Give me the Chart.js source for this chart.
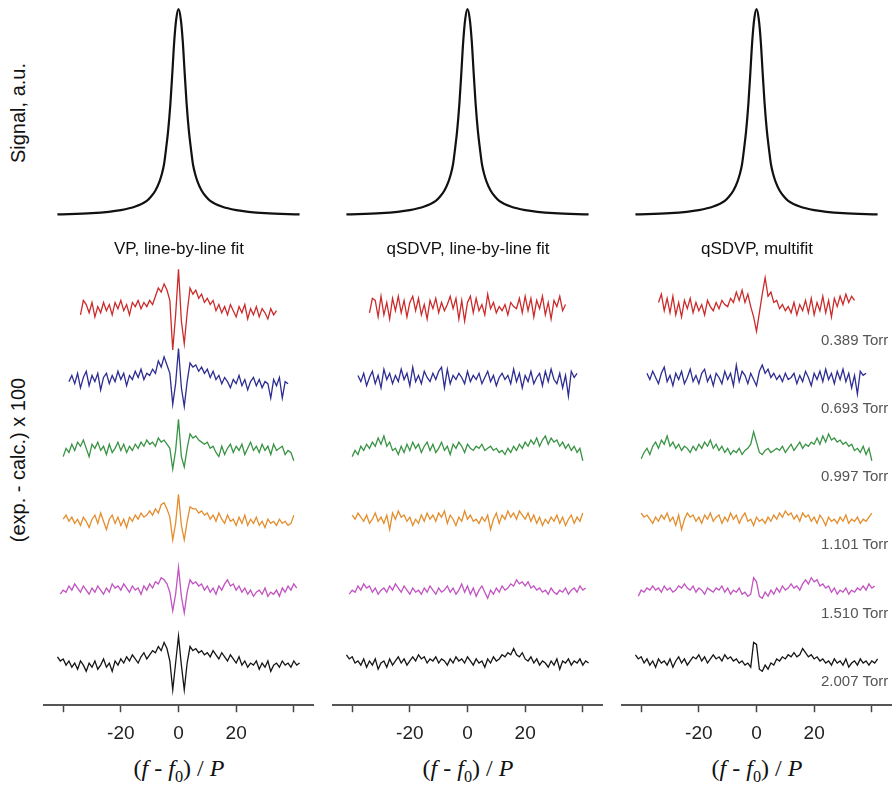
<!DOCTYPE html>
<html>
<head>
<meta charset="utf-8">
<script src="https://cdn.jsdelivr.net/npm/chart.js@4.4.1/dist/chart.umd.min.js"></script>
<style>
  body { margin: 0; background: #fff; }
  #wrap { position: relative; width: 894px; height: 785px; overflow: hidden;
          font-family: "Liberation Sans", Arial, sans-serif; color: #111; }
  canvas { position: absolute; top: 0; }
  .lbl { position: absolute; white-space: nowrap; transform: translate(-50%, -50%); }
  .title { font-size: 17px; }
  .ylab { position: absolute; white-space: nowrap; font-size: 20px;
          transform: translate(-50%, -50%) rotate(-90deg); }
  .xt { font-family: "Liberation Serif", "Times New Roman", serif; font-size: 24px; }
  .xt sub { font-size: 0.68em; }
  .torr { position: absolute; font-size: 15px; color: #555; white-space: nowrap;
          transform: translateY(-50%); }
</style>
</head>
<body>
<div id="wrap">
  <canvas id="c0" width="271" height="755" style="left:43px"></canvas>
  <canvas id="c1" width="271" height="755" style="left:332px"></canvas>
  <canvas id="c2" width="271" height="755" style="left:621px"></canvas>

  <div class="ylab" style="left:18px; top:113px">Signal, a.u.</div>
  <div class="ylab" style="left:18px; top:460px">(exp. - calc.) x 100</div>

  <div class="lbl title" style="left:179px; top:249px">VP, line-by-line fit</div>
  <div class="lbl title" style="left:468px; top:249px">qSDVP, line-by-line fit</div>
  <div class="lbl title" style="left:757px; top:249px">qSDVP, multifit</div>

  <div class="lbl xt" style="left:179px; top:771px">(<i>f</i> - <i>f</i><sub>0</sub>) / <i>P</i></div>
  <div class="lbl xt" style="left:468px; top:771px">(<i>f</i> - <i>f</i><sub>0</sub>) / <i>P</i></div>
  <div class="lbl xt" style="left:757px; top:771px">(<i>f</i> - <i>f</i><sub>0</sub>) / <i>P</i></div>

  <div id="torr"></div>
</div>

<script>
// axis
const xTicks = [-40, -20, 0, 20, 40];
const tickLabels = ['', '-20', '0', '20', ''];

// pressures (one residual trace each), first x of each trace, step 1
const pressures = ['0.389 Torr', '0.693 Torr', '0.997 Torr', '1.101 Torr', '1.510 Torr', '2.007 Torr'];
const traceColors = ['#cc2b2b', '#2d2d92', '#3a9445', '#e38d2c', '#c154c1', '#161616'];
const traceStart = [-34, -38, -40, -40, -41, -42];

// measured line profile (top)
const peakX = [-42, -30, -20, -15, -11, -9.5, -8, -6.6, -5.8, -5, -4.3, -3.6, -2.8, -2.1, -1.5, -0.8, 0,
               0.8, 1.5, 2.1, 2.8, 3.6, 4.3, 5, 5.8, 6.6, 8, 9.5, 11, 15, 20, 30, 42];
const peakY = [0.006, 0.012, 0.027, 0.044, 0.072, 0.093, 0.122, 0.165, 0.2, 0.25, 0.325, 0.41, 0.545, 0.7, 0.84, 0.95, 1.0,
               0.95, 0.84, 0.7, 0.545, 0.41, 0.325, 0.25, 0.2, 0.165, 0.122, 0.093, 0.072, 0.044, 0.027, 0.012, 0.006];

// residuals, VP line-by-line
const vpRed = [-4,3,1,-3,2,-5,0,-3,2,-2, 1,-4,2,-1,3,-2,1,-4,2,0, 3,-1,2,0,3,1,5,9,7,11,
  8,3,-21,-4,18,-7,-18,-3,9,6, 8,4,6,2,4,1,3,-2,1,-3, 0,-4,1,-2,-5,0,-3,1,-6,-1, -4,0,-5,-1,-3,-6,-1,-4,-2];
const vpBlue = [-2,1,-3,2,-5,0,3,-4,1,-2, 2,-6,0,2,-3,1,-2,3,-1,2, -4,1,-1,3,0,4,-1,2,1,4,
  2,8,5,10,6,2,-13,-3,14,-5, -14,-2,7,5,6,3,5,2,4,0, 3,-1,1,-3,0,-2,-5,-1,-3,1,
  -4,-1,-6,-2,0,-4,-1,-5,-2,-3, -10,-1,-4,0,-10,-2,-3];
const vpGreen = [-4,0,-2,2,-1,3,1,4,0,-4, 2,0,3,-1,1,-3,2,-2,0,3, -1,2,-2,1,-1,2,0,3,1,4,
  2,3,1,5,3,4,2,0,-10,-1, 14,-4,-9,0,7,5,6,4,3,2, 3,0,1,-2,-4,1,-3,0,2,-2,
  1,-1,2,-3,0,3,-1,1,-2,2, -1,1,-3,2,-1,0,1,-3,-1,-2, -6];
const vpOrange = [0,2,-1,1,-2,0,-3,1,-1,-4, 0,2,-2,3,-1,-5,0,2,-2,1, -3,0,-4,1,-1,2,0,3,1,2,
  4,2,5,3,7,8,5,1,-10,-2, 12,-3,-10,-1,6,5,5,3,4,2, 3,0,2,-1,3,0,-2,2,-1,0,
  -3,1,-2,2,-3,0,-2,1,-3,-1, -4,0,-2,-1,-3,0,-2,-1,-3,-2, 2];
const vpMagenta = [-2,0,-1,2,0,3,1,-1,2,0, -2,1,-1,2,0,-2,1,-1,3,1, 2,0,3,1,-1,2,0,1,-2,2,
  0,3,1,4,3,6,5,3,-1,-10, -2,11,-3,-11,-1,5,3,4,2,3, 0,2,-1,1,-2,2,0,3,5,2,
  3,0,2,-1,1,-2,0,-3,-1,0, -2,1,-3,-1,-2,0,-3,1,-1,2, 0,3,1];
const vpBlack = [2,0,1,-2,0,-3,-1,-4,0,-2, -5,-1,-3,0,-4,-2,1,-3,-1,-5, 0,-2,1,-1,2,0,3,1,-1,2,
  4,1,3,5,4,7,5,9,6,0, -14,-1,12,-2,-14,-1,7,5,6,4, 5,3,4,2,5,3,1,4,2,0,
  3,1,-1,2,-2,0,-3,-1,-2,0, -4,-1,-3,0,-5,-2,-1,-3,0,-2, -1,-3,0,-2,-1];

// residuals, qSDVP line-by-line
const sdRed = [-3,4,3,-5,5,-4,2,-6,4,-2, 5,-3,3,-5,2,5,-2,4,-4,1, -6,3,-1,4,-3,2,-2,1,5,-1,
  4,-6,3,-7,2,5,-3,4,-2,1, -4,6,-1,2,-3,0,-2,1,-4,2, 0,-1,4,-3,5,-2,4,-5,3,-1, 5,-4,2,-6,3,0,5,-2,1];
const sdBlue = [1,-2,2,-4,0,3,-3,1,-5,4, -1,2,-3,1,-2,4,-1,2,-4,5, -2,1,-3,3,0,-2,2,-1,3,5,
  -5,4,-3,1,-1,2,0,-3,3,-2, 1,-1,2,-3,0,3,-2,1,-4,0, 2,-1,1,-3,4,-2,2,-5,1,-2,
  3,-3,0,2,-4,3,-2,4,-1,-3, 2,-5,1,-9,3,0,2];
const sdGreen = [-4,-1,-3,1,-1,2,0,3,1,5, 2,6,1,3,-1,0,-3,1,-2,2, -1,3,0,2,-2,1,3,-1,2,-2,
  0,3,-1,1,-3,2,0,3,1,-2, 2,0,-1,1,0,2,-1,0,1,-1, 0,-2,-1,-3,0,-2,1,-1,2,0,
  3,1,4,2,5,1,4,6,2,5, 3,4,1,3,0,2,-1,1,-2,0, -6];
const sdOrange = [2,0,3,1,-1,2,-2,0,3,-1, 1,-2,2,-5,3,0,4,1,2,-1, 1,-3,0,-2,2,-1,3,0,2,-1,
  3,1,4,-2,2,0,-3,1,-1,4, 0,2,-1,0,-2,1,-1,2,-5,0, 3,-2,2,0,4,1,3,0,4,2,
  0,3,-1,2,-2,1,-3,0,-2,1, -1,2,-2,1,-3,0,2,-2,1,-1, 3];
const sdMagenta = [-2,0,-1,2,0,3,1,2,-1,1, -2,0,1,-1,2,0,3,1,-1,2, 0,-2,1,-1,0,-2,1,-1,2,0,
  -2,1,-1,0,2,-1,1,-2,0,3, -1,2,-2,1,-3,0,2,-1,-4,0, -2,1,-1,2,0,1,3,2,5,3,
  4,2,4,1,2,0,1,-1,0,-2, 1,-1,-2,0,-1,1,-2,0,1,-1, 2,0,1];
const sdBlack = [3,1,2,-1,0,-2,1,-3,0,-2, 1,-4,-1,0,-3,1,-2,0,2,-1, 1,-2,0,2,0,3,1,2,-1,1,
  0,2,-1,1,0,-2,1,-1,2,0, 1,-1,2,0,-2,1,-1,0,-3,1, -1,2,0,1,3,2,4,3,6,3,
  2,4,1,0,2,-1,1,-2,0,-1, -3,0,-2,1,-4,0,-1,1,-2,0, -1,1,-2,0,-1];

// residuals, qSDVP multifit
const mfRed = [2,6,-2,4,-3,5,-4,2,-5,3, -1,4,-3,2,-2,1,-4,3,0,-2, 2,-1,3,1,0,4,2,7,3,8,
  2,6,0,-5,-12,-3,6,14,5,7, 2,3,-1,1,-2,0,-3,2,-4,1, -2,3,-3,4,-4,2,-2,5,-3,3, -5,4,0,5,1,6,2,5,3];
const mfBlue = [2,-1,3,0,-3,2,5,-2,1,-4, 2,-1,3,-3,0,4,-2,1,-3,2, 4,-2,1,-4,2,0,-3,3,-1,2,
  -4,6,-2,3,1,-3,2,-1,-4,3, 6,2,4,0,2,-1,1,-2,2,-1, 0,2,-3,1,-2,3,0,-4,2,-1,
  3,-2,4,-1,2,-3,3,-1,4,-2, 2,-5,1,-8,3,1,2];
const mfGreen = [-5,-2,0,-3,1,3,0,4,2,6, 1,3,0,2,-1,1,0,-2,1,-1, 2,0,3,1,4,0,2,-1,1,-2,
  0,-3,-1,-2,0,-3,-1,0,2,8, 3,-2,-3,-1,0,-2,-1,0,-1,1, -2,0,2,-1,1,3,0,2,1,3,
  2,5,2,6,3,7,4,5,3,4, 2,3,1,2,-1,0,-2,1,-3,0, -6];
const mfOrange = [3,1,2,0,-2,1,-1,2,0,3, -1,1,-3,2,-5,0,3,1,2,-1, 1,-2,2,0,3,-1,1,2,-2,1,
  -1,3,0,2,-2,1,3,-1,0,-3, 1,-1,0,-2,1,-1,2,0,3,1, 4,2,3,0,2,-1,3,1,2,-1,
  1,-2,2,0,-3,1,-1,0,-2,1, -1,2,-2,0,-1,1,-2,0,-1,1, 3];
const mfMagenta = [-3,0,-1,1,0,2,0,1,-1,2, 0,1,-1,0,2,1,3,1,0,2, -1,1,0,-2,1,0,-1,1,0,2,
  -1,1,-2,0,-1,1,-2,-1,-3,-2, 6,4,-3,-4,-1,-3,0,-2,1,-1, 2,0,1,3,1,2,0,3,5,3,
  6,4,5,2,3,1,2,-1,1,-2, 0,-1,1,-2,0,-1,1,0,2,0, 3,1,2];
const mfBlack = [3,1,2,-1,1,-2,0,-3,1,-1, 0,-2,1,-3,0,2,-1,1,-2,0, 2,1,3,0,2,-1,1,3,1,2,
  0,3,1,2,0,1,-1,0,-2,-1, -3,9,8,-4,-5,-2,-4,-1,-2,1, 0,2,1,3,2,4,2,3,6,4,
  2,3,1,2,0,1,-1,0,-2,1, -1,0,-2,1,-3,-1,0,-2,1,-1, 0,-2,0,-1,1];

const panels = [
  [vpRed, vpBlue, vpGreen, vpOrange, vpMagenta, vpBlack],
  [sdRed, sdBlue, sdGreen, sdOrange, sdMagenta, sdBlack],
  [mfRed, mfBlue, mfGreen, mfOrange, mfMagenta, mfBlack]
];

// layout of the stacked traces (signal units)
const resScale = 0.01;
const traceOffset = k => -0.44 - 0.343 * k;

function makePanel(id, residuals) {
  const datasets = [{
    data: peakX.map((x, i) => ({ x: x, y: peakY[i] })),
    borderColor: '#111',
    borderWidth: 2.2,
    cubicInterpolationMode: 'monotone'
  }];
  residuals.forEach((arr, k) => {
    datasets.push({
      data: arr.map((r, i) => ({ x: traceStart[k] + i, y: traceOffset(k) + r * resScale })),
      borderColor: traceColors[k],
      borderWidth: 1.3,
      tension: 0
    });
  });

  new Chart(document.getElementById(id), {
    type: 'line',
    data: { datasets },
    options: {
      responsive: false,
      animation: false,
      devicePixelRatio: 1,
      clip: false,
      elements: { point: { radius: 0 } },
      plugins: { legend: { display: false }, tooltip: { enabled: false } },
      layout: { padding: 0 },
      scales: {
        x: {
          type: 'linear',
          min: -47,
          max: 47,
          afterBuildTicks: s => { s.ticks = xTicks.map(v => ({ value: v })); },
          ticks: {
            callback: (v, i) => tickLabels[i],
            color: '#222',
            padding: 10,
            maxRotation: 0,
            font: { family: '"Liberation Sans", Arial, sans-serif', size: 19 }
          },
          grid: { drawOnChartArea: false, drawTicks: true, tickLength: 7, tickColor: '#444', tickWidth: 1.5 },
          border: { display: true, color: '#555', width: 2 }
        },
        y: { display: false, min: -2.369, max: 1.0437 }
      }
    }
  });
}

panels.forEach((p, i) => makePanel('c' + i, p));

// pressure labels at right
const torrY = [339, 407, 475, 543, 612, 680];
document.getElementById('torr').innerHTML = pressures.map((p, k) =>
  `<div class="torr" style="left:821px; top:${torrY[k]}px">${p}</div>`).join('');
</script>
</body>
</html>
